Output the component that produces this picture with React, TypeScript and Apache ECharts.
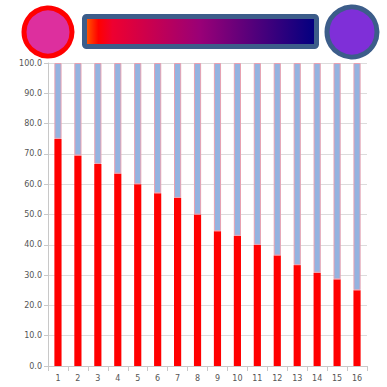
import React, { useEffect, useRef } from "react";
import * as echarts from "echarts";

const categories = ["1","2","3","4","5","6","7","8","9","10","11","12","13","14","15","16"];
const redValues = [75, 69.5, 66.7, 63.5, 60, 57, 55.5, 50, 44.5, 43, 40, 36.5, 33.3, 30.8, 28.6, 25];
const blueValues = redValues.map((v) => +(100 - v).toFixed(1));

export default function App() {
  const ref = useRef<HTMLDivElement>(null);
  useEffect(() => {
    if (!ref.current) return;
    const chart = echarts.init(ref.current, null, { renderer: "svg" });
    const lbl = { color: "#555", fontSize: 8, fontFamily: "DejaVu Sans" };
    chart.setOption({
      animation: false,
      backgroundColor: "#fff",
      grid: { left: 48, right: 20, top: 63, bottom: 21, containLabel: false },
      xAxis: {
        type: "category",
        data: categories,
        axisLine: { lineStyle: { color: "#c8c8c8" } },
        axisTick: { show: true, lineStyle: { color: "#c8c8c8" } },
        axisLabel: { ...lbl, margin: 8 },
      },
      yAxis: {
        type: "value",
        min: 0,
        max: 100,
        interval: 10,
        axisLine: { show: true, lineStyle: { color: "#c8c8c8" } },
        axisTick: { show: true, length: 4, lineStyle: { color: "#c8c8c8" } },
        splitLine: { lineStyle: { color: "#dcdcdc" } },
        axisLabel: { ...lbl, margin: 6, formatter: (v: number) => v.toFixed(1) },
      },
      series: [
        {
          type: "bar",
          stack: "s",
          data: redValues,
          barWidth: "36%",
          itemStyle: { color: "#ff0000" },
        },
        {
          type: "bar",
          stack: "s",
          data: blueValues,
          barWidth: "36%",
          itemStyle: { color: "#94b3e0", borderColor: "#e8a0b0", borderWidth: 1 },
        },
      ],
      graphic: [
        {
          type: "circle",
          shape: { cx: 48, cy: 32, r: 24 },
          style: { fill: "#dd2f9e", stroke: "#ff0000", lineWidth: 5 },
        },
        {
          type: "rect",
          shape: { x: 84.5, y: 16.5, width: 232, height: 30, r: 2 },
          style: {
            stroke: "#3c5d8a",
            lineWidth: 5,
            fill: new echarts.graphic.LinearGradient(0, 0, 1, 0, [
              { offset: 0, color: "#ff6600" },
              { offset: 0.06, color: "#ff0000" },
              { offset: 0.12, color: "#ee0030" },
              { offset: 0.5, color: "#990077" },
              { offset: 1, color: "#000080" },
            ]),
          },
        },
        {
          type: "circle",
          shape: { cx: 352, cy: 32, r: 25 },
          style: { fill: "#7f2fd8", stroke: "#3c5d8a", lineWidth: 5 },
        },
      ],
    });
    return () => chart.dispose();
  }, []);
  return (
    <div
      ref={ref}
      style={{ position: "fixed", left: 0, top: 0, width: 387, height: 387 }}
    />
  );
}
